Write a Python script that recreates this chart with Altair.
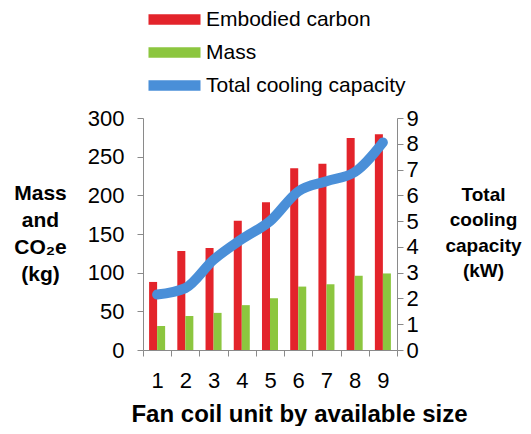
import altair as alt
import pandas as pd

units = ["1", "2", "3", "4", "5", "6", "7", "8", "9"]
carbon = [88, 128, 132, 167, 191, 235, 241, 274, 279]
mass = [31, 44, 48, 58, 67, 82, 85, 96, 99]
cooling = [2.15, 2.4, 3.5, 4.3, 5.0, 6.15, 6.55, 6.9, 8.05]

series_names = ["Embodied carbon", "Mass", "Total cooling capacity"]
series_colors = ["#e3242b", "#8cc63f", "#4a8fd8"]

rows = []
for u, c, m in zip(units, carbon, mass):
    rows.append({"unit": u, "series": "Embodied carbon", "value": c})
    rows.append({"unit": u, "series": "Mass", "value": m})
bar_df = pd.DataFrame(rows)
line_df = pd.DataFrame({"unit": units, "cooling": cooling})

FONT = "Liberation Sans"

x_enc = alt.X(
    "unit:O",
    sort=units,
    scale=alt.Scale(paddingInner=0, paddingOuter=0),
    axis=alt.Axis(
        title="Fan coil unit by available size",
        labelAngle=0,
        tickBand="extent",
        labelPadding=14,
        titleFontSize=24,
        titleFontWeight="bold",
        titleAnchor="start",
        titleAlign="center",
        titleX=156,
        titlePadding=11,
    ),
)

bars = alt.Chart(bar_df).mark_bar().encode(
    x=x_enc,
    xOffset=alt.XOffset(
        "series:N",
        sort=["Embodied carbon", "Mass"],
        scale=alt.Scale(paddingInner=0, paddingOuter=0.76),
    ),
    y=alt.Y(
        "value:Q",
        scale=alt.Scale(domain=[0, 300]),
        axis=alt.Axis(
            values=[0, 50, 100, 150, 200, 250, 300],
            labelPadding=13,
            title=["Mass", "and", "CO₂e", "(kg)"],
            titleAngle=0,
            titleAlign="center",
            titleBaseline="top",
            titleX=-103,
            titleY=64,
            titleFontSize=21,
            titleFontWeight="bold",
            titleLineHeight=27,
        ),
    ),
    color=alt.Color(
        "series:N",
        scale=alt.Scale(domain=series_names, range=series_colors),
        legend=alt.Legend(
            title=None,
            orient="none",
            legendX=21,
            legendY=-109,
            symbolType="M-2.5,-0.5H2.5V0.5H-2.5Z",
            symbolSize=433,
            symbolStrokeWidth=0,
            labelFontSize=21,
            labelFont=FONT,
            labelColor="black",
            labelLimit=400,
            rowPadding=11,
            labelOffset=21,
        ),
    ),
)

line = alt.Chart(line_df).mark_line(
    interpolate="monotone", strokeWidth=10, color="#4a8fd8", strokeCap="round"
).encode(
    x=x_enc,
    y=alt.Y(
        "cooling:Q",
        scale=alt.Scale(domain=[0, 9]),
        axis=alt.Axis(
            orient="right",
            values=list(range(10)),
            labelPadding=3,
            title=["Total", "cooling", "capacity", "(kW)"],
            titleAngle=0,
            titleAlign="center",
            titleBaseline="top",
            titleX=86,
            titleY=67,
            titleFontSize=19,
            titleFontWeight="bold",
            titleLineHeight=25.5,
        ),
    ),
)

chart = (
    alt.layer(bars, line)
    .resolve_scale(y="independent")
    .properties(
        width=254,
        height=232,
        autosize=alt.AutoSizeParams(type="none"),
        padding={"left": 135, "top": 110, "right": 126, "bottom": 76},
    )
    .configure_view(stroke=None)
    .configure_axis(
        grid=False,
        domainColor="#8a8a8a",
        tickColor="#8a8a8a",
        tickSize=6,
        labelFont=FONT,
        labelFontSize=22,
        labelColor="black",
        titleFont=FONT,
        titleColor="black",
    )
)

chart.save("out.html", embed_options={"renderer": "svg", "actions": False})
